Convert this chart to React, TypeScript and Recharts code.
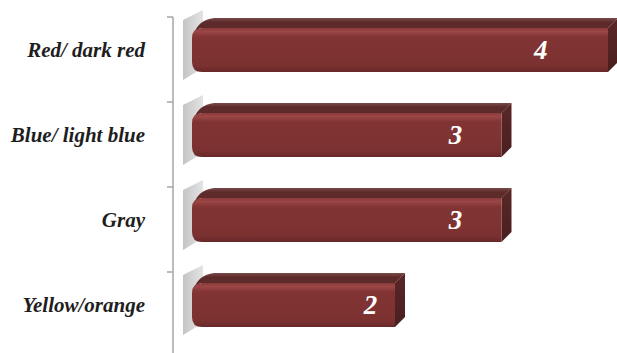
import { Bar, BarChart, LabelList, XAxis, YAxis } from 'recharts'

const categories = ['Red/ dark red', 'Blue/ light blue', 'Gray', 'Yellow/orange']
const counts = [4, 3, 3, 2]

const data = categories.map((name, i) => ({ name, value: counts[i] }))

const AXIS_X = 173
const LIFT = 10 // 3D view: bars sit above band centre
const DEPTH = 10
const BAND = 85
const SERIF = '"Liberation Serif", "Times New Roman", serif'

function CategoryTick(props: any) {
  const { y, payload } = props
  const boundary = y - BAND / 2
  return (
    <g>
      <line x1={AXIS_X - 6} x2={AXIS_X} y1={boundary} y2={boundary} stroke="#a6a6a6" strokeWidth={1.5} />
      <text
        x={145}
        y={y - LIFT}
        dy="0.35em"
        textAnchor="end"
        fontFamily={SERIF}
        fontWeight="bold"
        fontStyle="italic"
        fontSize={21}
        fill="#1e1e1e"
      >
        {payload.value}
      </text>
    </g>
  )
}

function Bar3D(props: any) {
  const { x, y, width, height } = props
  const fx = x + 10
  const fy = y - LIFT
  const ex = x + width
  const h = height
  return (
    <g>
      <polygon
        points={`${x + 1},${fy - 8} ${x + 21},${fy - 18} ${x + 21},${fy + h - 4} ${x + 1},${fy + h + 8}`}
        fill="url(#shadowGrad)"
      />
      <path
        d={`M${fx + 2},${fy + 6} Q${fx + 6},${fy - 8} ${fx + 22},${fy - DEPTH} L${ex + DEPTH},${fy - DEPTH} L${ex},${fy} L${fx + 8},${fy} Z`}
        fill="url(#topGrad)"
      />
      <polygon
        points={`${ex},${fy} ${ex + DEPTH},${fy - DEPTH} ${ex + DEPTH},${fy + h - DEPTH} ${ex},${fy + h}`}
        fill="url(#sideGrad)"
      />
      <path
        d={`M${fx + 10},${fy} L${ex},${fy} L${ex},${fy + h} L${fx + 10},${fy + h} Q${fx},${fy + h} ${fx},${fy + h - 10} L${fx},${fy + 10} Q${fx},${fy} ${fx + 10},${fy} Z`}
        fill="url(#frontGrad)"
      />
    </g>
  )
}

function ValueLabel(props: any) {
  const { x, y, width, height, value } = props
  return (
    <text
      x={x + width * 0.8 + 18}
      y={y - LIFT + height / 2}
      dy="0.35em"
      textAnchor="middle"
      fontFamily={SERIF}
      fontWeight="bold"
      fontStyle="italic"
      fontSize={27}
      fill="#ffffff"
    >
      {value}
    </text>
  )
}

export default function App() {
  return (
    <div style={{ position: 'absolute', left: 0, top: 0, width: 617, height: 353, overflow: 'hidden', background: '#fff' }}>
      <BarChart
        width={617}
        height={360}
        data={data}
        layout="vertical"
        margin={{ top: 17, right: 9, bottom: 3, left: 0 }}
        barSize={44}
      >
        <defs>
          <linearGradient id="frontGrad" x1="0" y1="0" x2="0" y2="1">
            <stop offset="0" stopColor="#8a3a3a" />
            <stop offset="0.08" stopColor="#9c4646" />
            <stop offset="0.2" stopColor="#823434" />
            <stop offset="0.85" stopColor="#7c3131" />
            <stop offset="1" stopColor="#682828" />
          </linearGradient>
          <linearGradient id="topGrad" x1="0" y1="0" x2="0" y2="1">
            <stop offset="0" stopColor="#7a4a4a" />
            <stop offset="0.25" stopColor="#5e2b2b" />
            <stop offset="1" stopColor="#5c2a2a" />
          </linearGradient>
          <linearGradient id="sideGrad" x1="0" y1="0" x2="0" y2="1">
            <stop offset="0" stopColor="#5a2727" />
            <stop offset="1" stopColor="#4a1f1f" />
          </linearGradient>
          <linearGradient id="shadowGrad" x1="0" y1="0" x2="1" y2="0">
            <stop offset="0" stopColor="#c4c4c4" />
            <stop offset="1" stopColor="#e4e4e4" />
          </linearGradient>
        </defs>
        <XAxis type="number" domain={[0, 4]} hide padding={{ left: 9, right: 0 }} />
        <YAxis
          type="category"
          dataKey="name"
          width={AXIS_X}
          axisLine={{ stroke: '#a6a6a6', strokeWidth: 1.5 }}
          tickLine={false}
          tick={<CategoryTick />}
        />
        <Bar dataKey="value" shape={<Bar3D />} isAnimationActive={false}>
          <LabelList dataKey="value" content={<ValueLabel />} />
        </Bar>
      </BarChart>
    </div>
  )
}
